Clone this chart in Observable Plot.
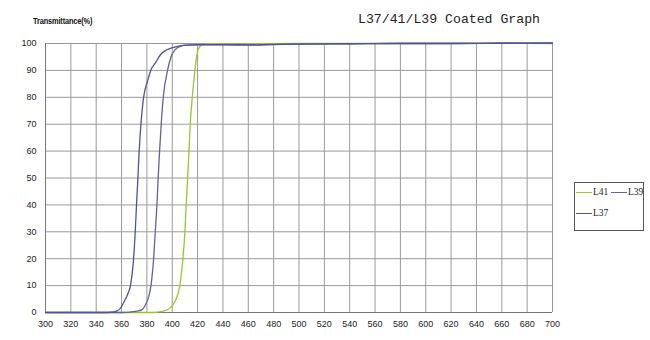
<!DOCTYPE html>
<html>
<head>
<meta charset="utf-8">
<script src="https://cdn.jsdelivr.net/npm/d3@7"></script>
<script src="https://cdn.jsdelivr.net/npm/@observablehq/plot@0.6"></script>
<style>
  body { margin: 0; background: #fff; }
  #wrap { position: relative; width: 650px; height: 340px; overflow: hidden; background:#fff; }
  #wrap svg { position: absolute; left: 0; top: 0; }
  .title { position: absolute; left: 358px; top: 12px; font-family: "Liberation Mono", monospace; font-size: 13.2px; color: #222; white-space: nowrap; }
  .ylab { position: absolute; left: 33px; top: 15px; font-family: "Liberation Sans", Arial, sans-serif; font-weight: bold; font-size: 9.5px; letter-spacing: -0.2px; color: #111; white-space: nowrap; transform: scaleX(0.78); transform-origin: left center; }
  .legend { position: absolute; left: 574px; top: 182px; width: 68px; height: 47px; border: 1px solid #555; background: #fff; font-family: "Liberation Serif", serif; font-size: 9.5px; color: #222; }
  .legend .it { position: absolute; display: flex; align-items: center; white-space: nowrap; }
  .legend .sw { display: inline-block; width: 16px; height: 0; border-top: 1.5px solid; margin-right: 1px; }
</style>
</head>
<body>
<div id="wrap">
  <div class="title">L37/41/L39 Coated Graph</div>
  <div class="ylab">Transmittance(%)</div>
</div>
<script>
// Tick labels
const xTicks = [300,320,340,360,380,400,420,440,460,480,500,520,540,560,580,600,620,640,660,680,700];
const yTicks = [0,10,20,30,40,50,60,70,80,90,100];

// Series names and colours
const seriesNames = ["L41", "L39", "L37"];
const seriesColors = ["#9cc52b", "#62629f", "#52529a"];

// L41 (green)
const l41X = [300,385,391,396,400,403,406,408.4,410,411,412.1,413.2,414.2,415.8,417.9,419.5,422,425,430,450,470,500,540,580,620,660,700];
const l41Y = [0,0,0.3,1,2.5,5,10,20,30,40,50,60,70,80,90,96,99,99.7,99.9,99.8,99.9,100,100,100.1,100.1,100.2,100];

// L39 (middle blue)
const l39X = [300,360,368,372,376,379,381.5,383.2,385.3,386.6,387.9,388.9,390,391.3,392.9,396.3,399,402,406.8,412,420,440,460,480,500,540,580,620,660,700];
const l39Y = [0,0,0.2,0.5,1,3,6,10,20,30,40,50,60,70,80,90,95,97.5,99,99.4,99.5,99.5,99.4,99.6,99.8,99.9,100,100,100.1,100.1];

// L37 (left blue)
const l37X = [300,345,352,356,359,362,365,367,369.5,370.8,371.8,372.9,373.9,375.3,377.4,380.5,383,387,391,395,399,405,410,420,440,460,480,500,540,580,620,660,700];
const l37Y = [0,0,0.1,0.5,1.5,4,7,10,20,30,40,50,60,70,80,86,90,93,96,97.5,98.3,99,99.4,99.6,99.6,99.5,99.7,99.8,99.9,100,100,100.1,100.2];

const rows = [];
[[l41X,l41Y],[l39X,l39Y],[l37X,l37Y]].forEach(([xs,ys],i) => {
  xs.forEach((x,j) => rows.push({wl: x, t: ys[j], s: seriesNames[i]}));
});

const chart = Plot.plot({
  width: 650,
  height: 340,
  marginLeft: 45,
  marginRight: 98,
  marginTop: 43,
  marginBottom: 28,
  style: { fontFamily: "'Liberation Sans', Arial, sans-serif", fontSize: "9px", color: "#222", background: "transparent" },
  x: { domain: [300, 700] },
  y: { domain: [0, 100] },
  color: { domain: seriesNames, range: seriesColors },
  marks: [
    Plot.gridX(xTicks, { stroke: "#9a9a9a", strokeOpacity: 1, strokeWidth: 1 }),
    Plot.gridY(yTicks, { stroke: "#9a9a9a", strokeOpacity: 1, strokeWidth: 1 }),
    Plot.axisX(xTicks, { tickSize: 0, tickPadding: 8, label: null, fontSize: 9 }),
    Plot.axisY(yTicks, { tickSize: 0, tickPadding: 9, label: null, fontSize: 9 }),
    Plot.ruleX([300], { stroke: "#777" }),
    Plot.ruleY([0], { stroke: "#777" }),
    Plot.line(rows, { x: "wl", y: "t", z: "s", stroke: "s", strokeWidth: 1.3, curve: "monotone-x" })
  ]
});
document.getElementById("wrap").prepend(chart);

// Legend
const legend = document.createElement("div");
legend.className = "legend";
const pos = [[1, 4], [36, 4], [1, 25]];
seriesNames.forEach((name, i) => {
  const it = document.createElement("div");
  it.className = "it";
  it.style.left = pos[i][0] + "px";
  it.style.top = pos[i][1] + "px";
  const sw = document.createElement("span");
  sw.className = "sw";
  sw.style.borderTopColor = seriesColors[i];
  it.appendChild(sw);
  it.appendChild(document.createTextNode(name));
  legend.appendChild(it);
});
document.getElementById("wrap").appendChild(legend);
</script>
</body>
</html>
